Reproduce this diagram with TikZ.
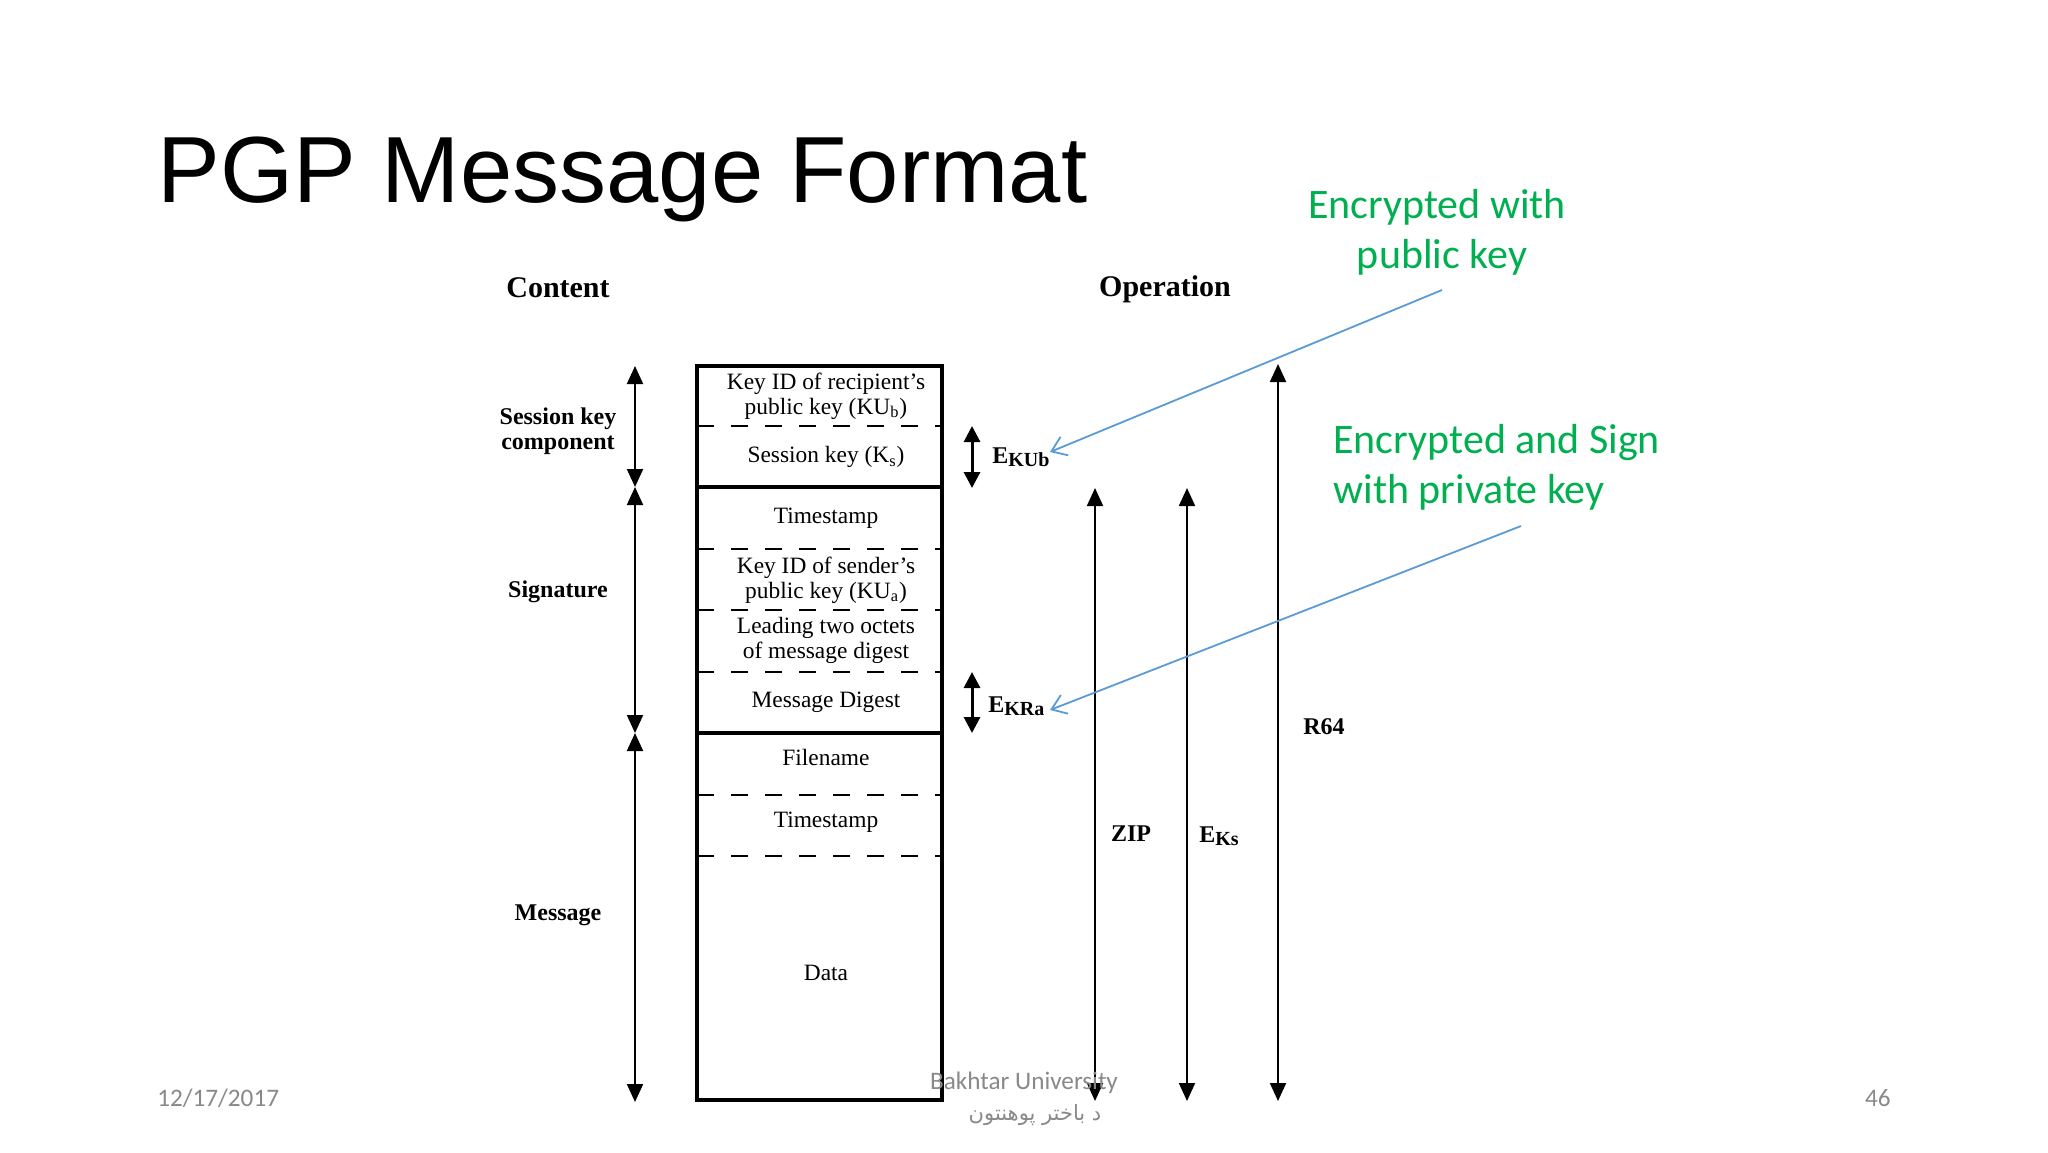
\documentclass[tikz,border=0pt]{standalone}
\usepackage{fontspec}
\setmainfont{Liberation Serif}
\newfontfamily\arialf{Liberation Sans}
\newfontfamily\calf{Carlito}
\newfontfamily\arabicfont[Script=Arabic]{DejaVu Sans}
\TeXXeTstate=1
\usetikzlibrary{arrows.meta}
\definecolor{pgreen}{RGB}{0,176,80}
\definecolor{pblue}{RGB}{91,155,213}
\definecolor{pgrey}{RGB}{137,137,137}
\newcommand{\opsub}[1]{\raisebox{-0.3ex}{\fontsize{10}{11}\selectfont\bfseries #1}}
\begin{document}
\begin{tikzpicture}[x=0.5pt,y=-0.5pt,
  boxtext/.style={font=\fontsize{11.7}{12.5}\selectfont, align=center, inner sep=0pt},
  sidelabel/.style={font=\bfseries\fontsize{12}{12.5}\selectfont, align=center, inner sep=0pt},
  headlabel/.style={font=\bfseries\fontsize{15}{18}\selectfont, inner sep=0pt},
  oplabel/.style={font=\bfseries\fontsize{12}{14}\selectfont, inner sep=0pt},
  greentext/.style={font=\calf\fontsize{21}{25}\selectfont, text=pgreen, inner sep=0pt},
  foot/.style={font=\calf\fontsize{12.6}{14}\selectfont, text=pgrey, inner sep=0pt},
  span/.style={line width=1pt, {Triangle[width=8pt,length=9pt]}-{Triangle[width=8pt,length=9pt]}},
  shortspan/.style={line width=1.5pt, {Triangle[width=8pt,length=8pt]}-{Triangle[width=8pt,length=8pt]}},
  boxline/.style={line width=2pt},
  dashline/.style={line width=1.1pt, dash pattern=on 8.5pt off 8.5pt},
  callout/.style={pblue, line width=0.9pt, -{Straight Barb[length=7pt,width=10pt]}}
]
\useasboundingbox (0,0) rectangle (2048,1152);
\fill[white] (0,0) rectangle (2048,1152);

% title
\node[font=\arialf\fontsize{47}{56}\selectfont, anchor=base west, inner sep=0pt] (title) at (157,202) {PGP Message Format};

% headers
\node[headlabel] (content) at (558,288) {Content};
\node[headlabel] (operation) at (1165,289) {Operation};

% box
\draw[boxline] (697,366) rectangle (942,1100);
\draw[boxline] (697,487) -- (942,487);
\draw[boxline] (697,733) -- (942,733);
\draw[dashline] (697,426) -- (942,426);
\draw[dashline] (697,549) -- (942,549);
\draw[dashline] (697,610) -- (942,610);
\draw[dashline] (697,672) -- (942,672);
\draw[dashline] (697,795) -- (942,795);
\draw[dashline] (697,856) -- (942,856);

% box texts
\node[boxtext] (kidr) at (826,396) {Key ID of recipient's\\public key (KU\textsubscript{b})};
\node[boxtext] (sk) at (826,457) {Session key (K\textsubscript{s})};
\node[boxtext] (ts1) at (826,518) {Timestamp};
\node[boxtext] (kids) at (826,580) {Key ID of sender's\\public key (KU\textsubscript{a})};
\node[boxtext] (lead) at (826,640) {Leading two octets\\of message digest};
\node[boxtext] (md) at (826,702) {Message Digest};
\node[boxtext] (fn) at (826,757) {Filename};
\node[boxtext] (ts2) at (826,822) {Timestamp};
\node[boxtext] (data) at (826,973) {Data};

% side labels
\node[sidelabel] (skc) at (558,431) {Session key\\component};
\node[sidelabel] (sig) at (558,592) {Signature};
\node[sidelabel] (msg) at (558,915) {Message};

% left spans
\coordinate (s1) at (635,366);
\coordinate (s2) at (635,487);
\coordinate (s3) at (635,733);
\coordinate (s4) at (635,1102);
\draw[span] (s1) -- (s2);
\draw[span] (s2) -- (s3);
\draw[span] (s3) -- (s4);

% short spans
\coordinate (k1) at (972,426);
\coordinate (k2) at (972,488);
\coordinate (r1) at (972,672);
\coordinate (r2) at (972,733);
\draw[shortspan] (k1) -- (k2);
\draw[shortspan] (r1) -- (r2);
\node[oplabel, anchor=west] (ekub) at (992,457) {E\opsub{KUb}};
\node[oplabel, anchor=west] (ekra) at (988,706) {E\opsub{KRa}};

% operation spans
\coordinate (zip1) at (1095,488);
\coordinate (zip2) at (1095,1101);
\coordinate (eks1) at (1187,488);
\coordinate (eks2) at (1187,1101);
\coordinate (rsf1) at (1278,364);
\coordinate (rsf2) at (1278,1101);
\draw[span] (zip1) -- (zip2);
\draw[span] (eks1) -- (eks2);
\draw[span] (rsf1) -- (rsf2);
\node[oplabel] (zip) at (1131,834) {ZIP};
\node[oplabel] (eks) at (1219,836) {E\opsub{Ks}};
\node[oplabel] (rsf) at (1324,727) {R64};

% green annotations
\node[greentext, anchor=base] (g1a) at (1437,218) {Encrypted with};
\node[greentext, anchor=base] (g1b) at (1442,268) {public key};
\node[greentext, anchor=base west] (g2a) at (1333,453) {Encrypted and Sign};
\node[greentext, anchor=base west] (g2b) at (1333,503) {with private key};

\coordinate (c1) at (1442,290);
\coordinate (c1t) at (1050,452);
\coordinate (c2) at (1521,526);
\coordinate (c2t) at (1050,710);
\draw[callout] (c1) -- (c1t);
\draw[callout] (c2) -- (c2t);

% footer
\node[foot, anchor=west] (date) at (157,1098) {12/17/2017};
\node[foot, anchor=east] (page) at (1891,1098) {46};
\node[foot] (uni) at (1024,1083) {Bakhtar University};
\node[foot, font=\arabicfont\fontsize{10.5}{12}\selectfont] (unia) at (1035,1115) {\beginR د باختر پوهنتون\endR};
\end{tikzpicture}
\end{document}
